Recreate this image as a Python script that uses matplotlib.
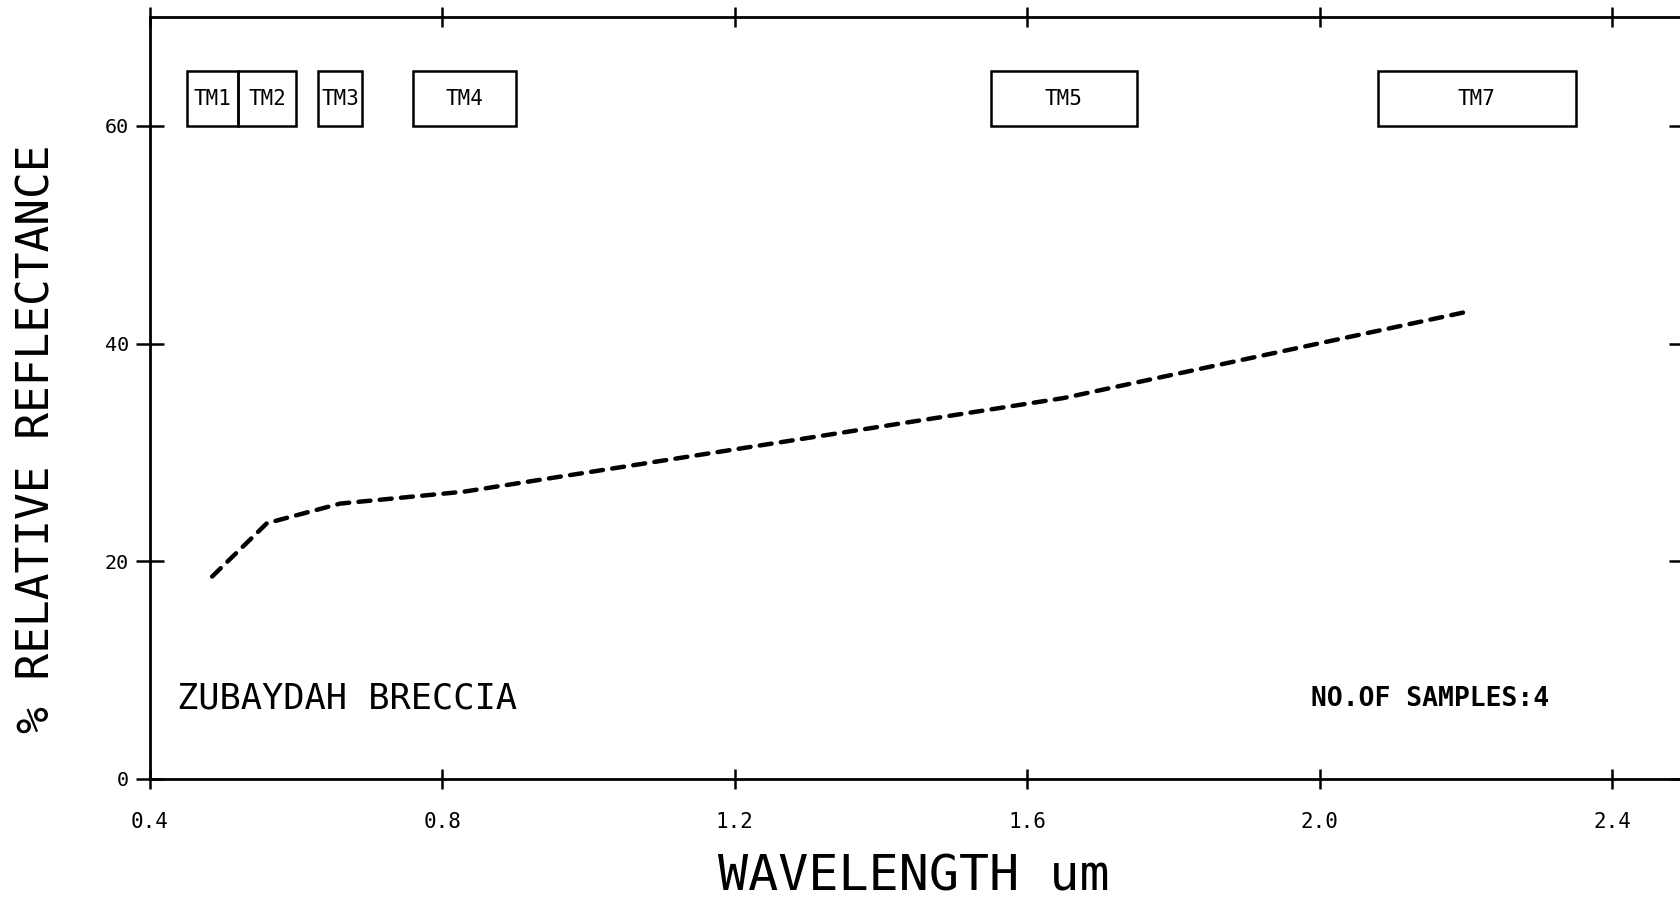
import matplotlib.pyplot as plt
from matplotlib.patches import Rectangle

plt.rcParams.update({
    "font.family": "DejaVu Sans Mono",
    "axes.linewidth": 2,
})

# mean spectrum, values at the TM band centres
wavelength = [0.485, 0.56, 0.66, 0.83, 1.65, 2.2]
reflectance = [18.6, 23.5, 25.3, 26.4, 35.0, 42.9]

# Landsat TM bands drawn as boxes along the top
bands = ["TM1", "TM2", "TM3", "TM4", "TM5", "TM7"]
band_lo = [0.45, 0.52, 0.63, 0.76, 1.55, 2.08]
band_hi = [0.52, 0.60, 0.69, 0.90, 1.75, 2.35]
box_y0, box_y1 = 60, 65

xticks = [0.4, 0.8, 1.2, 1.6, 2.0, 2.4]
yticks = [0, 20, 40, 60]

fig = plt.figure(figsize=(16.8, 9.01), dpi=100)
ax = fig.add_axes([150/1680, 122/901, 1533/1680, 762/901])

ax.plot(wavelength, reflectance, color="black", lw=3.2,
        linestyle=(0, (2.7, 2.1)), dash_capstyle="round")

for lo, hi, name in zip(band_lo, band_hi, bands):
    ax.add_patch(Rectangle((lo, box_y0), hi - lo, box_y1 - box_y0,
                           fill=False, ec="black", lw=1.8))
    ax.text((lo + hi)/2, (box_y0 + box_y1)/2, name, ha="center", va="center",
            fontsize=15)

ax.text(0.437, 7.35, "ZUBAYDAH BRECCIA", fontsize=25.5, va="center")
ax.text(1.988, 7.35, "NO.OF SAMPLES:4", fontsize=19, weight="bold", va="center")

ax.set_xlim(0.4, 2.497)
ax.set_ylim(0, 70)
ax.set_xticks(xticks)
ax.set_xticklabels([f"{v:.1f}" for v in xticks])
ax.set_yticks(yticks)
ax.tick_params(axis="x", direction="inout", length=14, width=1.8, top=True,
               labelsize=15, pad=17)
ax.tick_params(axis="y", direction="inout", length=20, width=1.8, right=True,
               labelsize=14.5, pad=5)

ax.set_xlabel("WAVELENGTH um", fontsize=36, va="center")
ax.xaxis.set_label_coords(0.498, -0.128)
ax.set_ylabel("% RELATIVE REFLECTANCE", fontsize=32, va="center", ha="center")
ax.yaxis.set_label_coords(-0.0734, 0.446)

fig.savefig("out.png", dpi=100)
